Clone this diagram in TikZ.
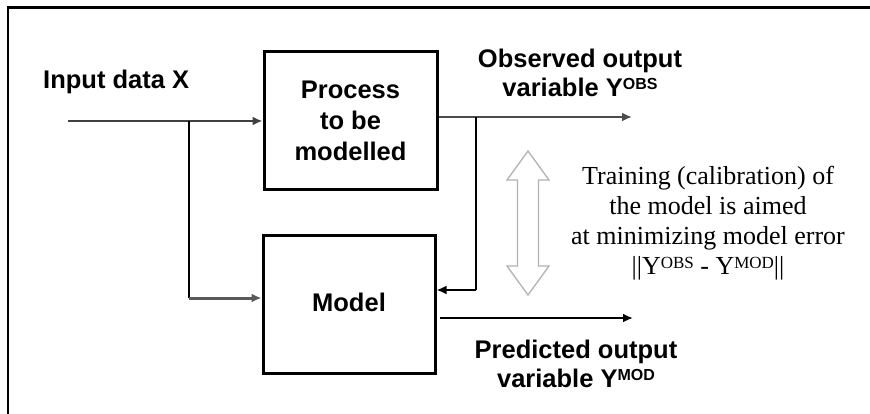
\documentclass[tikz,border=0pt]{standalone}
\usepackage{fontspec}
\setmainfont{Liberation Serif}
\setsansfont{Liberation Sans}
\usetikzlibrary{arrows.meta}
\newcommand{\bsans}{\sffamily\bfseries\fontsize{25.5}{29}\selectfont}
\newcommand{\bsansA}{\sffamily\bfseries\fontsize{25.5}{31}\selectfont}
\newcommand{\bsansB}{\sffamily\bfseries\fontsize{25.5}{28.5}\selectfont}
\newcommand{\supsans}[1]{\raisebox{7pt}{\fontsize{16}{16}\selectfont #1}}
\newcommand{\supserif}[1]{\raisebox{5.5pt}{\fontsize{17}{17}\selectfont #1}}
\tikzset{
  blockbox/.style={draw=black, line width=3pt, minimum width=173pt, inner sep=0pt, align=center, font=\bsans},
  lbl/.style={align=center, inner sep=0pt},
  tip/.style={-{Latex[length=10pt,width=9pt]}},
}
\begin{document}
\begin{tikzpicture}[x=1pt,y=-1pt]
\useasboundingbox (0,0) rectangle (870,414);
\fill[white] (0,0) rectangle (870,414);
% frame
\draw[line width=3pt] (6.5,8) -- (870,8);
\draw[line width=2.5pt] (8,8) -- (8,414);
% blocks
\node[blockbox, minimum height=138pt, font=\bsansA] (proc) at (350.5,121) {Process\\to be\\modelled};
\node[blockbox, minimum width=172pt, minimum height=137pt] (model) at (349,304.5) {\raisebox{4.5pt}{Model}};
% coordinates
\coordinate (in) at (68,121);
\coordinate (b1) at (189,121);
\coordinate (obs) at (632,117);
\coordinate (fb) at (476,117);
\coordinate (pred) at (633,318);
\coordinate (minw) at ([yshift=6.5pt]model.west);
\coordinate (mine) at ([yshift=14.5pt]model.east);
\coordinate (moute) at ([yshift=-13.5pt,xshift=3pt]model.east);
\coordinate (poute) at ([yshift=4pt]proc.east);
% connectors
\draw[tip, line width=2.2pt, draw=black!75] (in) -- (proc.west);
\draw[line width=1.2pt] (b1) -- (b1 |- minw);
\draw[tip, line width=3pt, draw=black!65] (b1 |- minw) -- (minw);
\draw[tip, line width=2.2pt, draw=black!70] (poute) -- (obs);
\draw[line width=1.2pt] (fb) -- (fb |- mine);
\draw[tip, line width=2.2pt] (fb |- mine) -- (mine);
\draw[tip, line width=2.2pt] (moute) -- (pred);
% hollow double arrow
\draw[draw=black!30, line width=1.3pt, fill=white, line join=miter]
  (528,151) -- (549,180) -- (538.5,180) -- (538.5,266) -- (549,266) -- (528,295)
  -- (507,266) -- (517.5,266) -- (517.5,180) -- (507,180) -- cycle;
% labels
\node[lbl, font=\bsans, anchor=west] (inlbl) at (43,82) {Input data X};
\node[lbl, font=\bsans] (obslbl) at (580,73) {Observed output\\variable Y\supsans{OBS}};
\node[lbl, font=\bsansB] (predlbl) at (576,364) {Predicted output\\variable Y\supsans{MOD}};
\node[lbl, font=\rmfamily\fontsize{26}{30}\selectfont] (train) at (708,223) {Training (calibration) of\\the model is aimed\\at minimizing model error\\||Y\supserif{OBS} - Y\supserif{MOD}||};
\end{tikzpicture}
\end{document}
